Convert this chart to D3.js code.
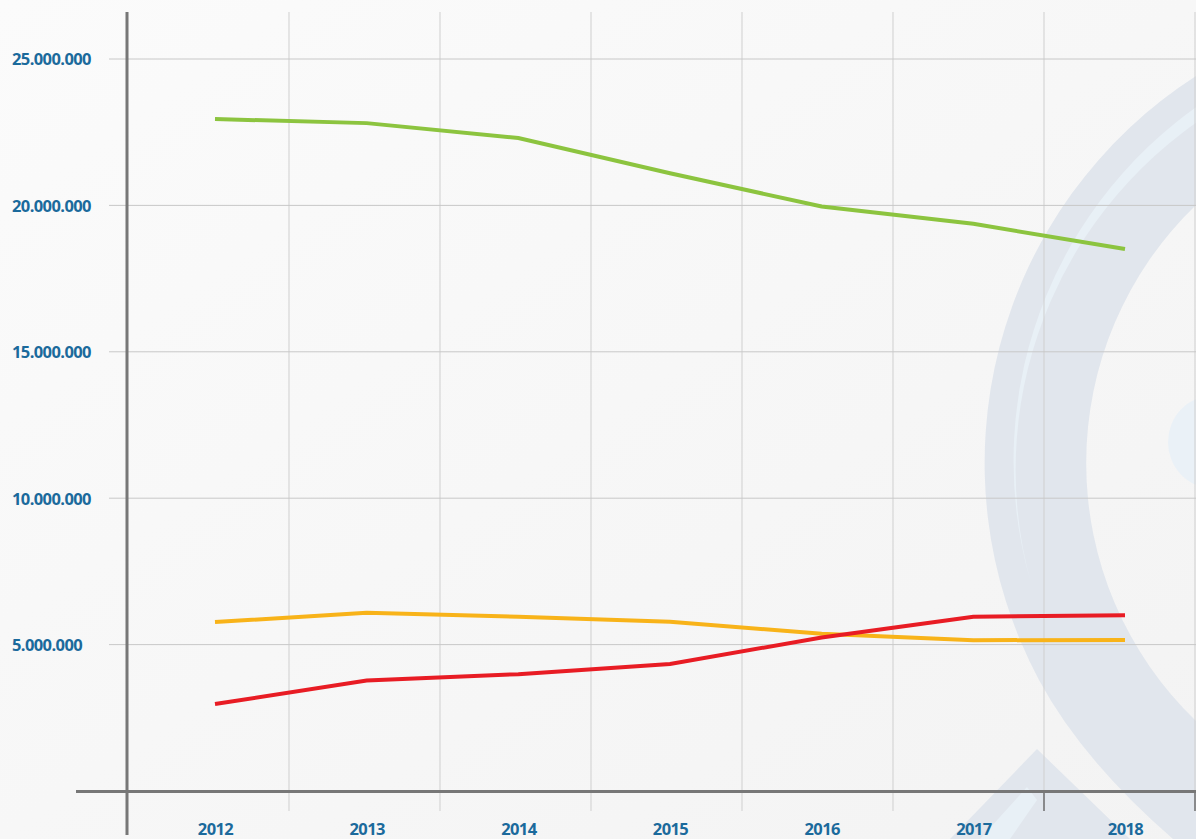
<!DOCTYPE html>
<html>
<head>
<meta charset="utf-8">
<script src="https://cdn.jsdelivr.net/npm/d3@7"></script>
<style>
  body { margin: 0; background: #f7f7f7; }
  svg { display: block; }
  .lbl text { font-family: "Open Sans", sans-serif; font-weight: 700; font-size: 16.5px; fill: #1b6a9c; letter-spacing: -0.6px; }
</style>
</head>
<body>
<div id="chart"></div>
<script>
// data
var years = ["2012", "2013", "2014", "2015", "2016", "2017", "2018"];
var green = [22950000, 22810000, 22300000, 21100000, 19960000, 19370000, 18510000];
var yellow = [5770000, 6090000, 5950000, 5780000, 5370000, 5150000, 5160000];
var red = [2970000, 3770000, 3990000, 4340000, 5240000, 5950000, 6000000];
var yTicks = [5000000, 10000000, 15000000, 20000000, 25000000];

var width = 1196, height = 839;

var svg = d3.select("#chart").append("svg")
    .attr("width", width)
    .attr("height", height);

// scales
var x = d3.scalePoint().domain(years).range([215, 1125]);
var band = d3.scaleBand().domain(years).range([138, 1195]);
var y = d3.scaleLinear().domain([0, 25000000]).range([791, 59]);

var fmt = d3.formatLocale({decimal: ",", thousands: ".", grouping: [3], currency: ["", ""]}).format(",d");

// background
var defs = svg.append("defs");
var grad = defs.append("linearGradient").attr("id", "bg")
    .attr("x1", 0).attr("y1", 0).attr("x2", 1).attr("y2", 1);
grad.append("stop").attr("offset", 0).attr("stop-color", "#fbfbfb");
grad.append("stop").attr("offset", 1).attr("stop-color", "#f3f3f3");
svg.append("rect").attr("width", width).attr("height", height).attr("fill", "url(#bg)");

// watermark logo in the corner
var wm = svg.append("g");
wm.append("path")
    .attr("d", "M1196,76 A460,460 0 0 0 1039,680 Q1082,760 1173,839 L1196,839 L1196,721 A358,358 0 0 1 1196,205 Z")
    .attr("fill", "#e1e6ed");
// thin light crescent inside the band
wm.append("path")
    .attr("d", "M1235.9,82.1 A434,434 0 0 0 1030.6,581.5 A424,424 0 0 1 1242.6,94.4 Z")
    .attr("fill", "#e8f0f6");
wm.append("path")
    .attr("d", "M1037,749 L950,839 L1130,839 Z")
    .attr("fill", "#e1e6ed");
wm.append("path")
    .attr("d", "M1027,787 L1037,800 L1010,839 L980,839 Z")
    .attr("fill", "#e8f0f6");
wm.append("ellipse")
    .attr("cx", 1212).attr("cy", 442).attr("rx", 44).attr("ry", 46)
    .attr("fill", "#eaf1f7");

// vertical grid
svg.append("g").selectAll("line")
    .data(years)
  .enter().append("line")
    .attr("x1", function(d) { return band(d) + band.bandwidth(); })
    .attr("x2", function(d) { return band(d) + band.bandwidth(); })
    .attr("y1", 12)
    .attr("y2", 811)
    .attr("stroke", "#cfcfcf")
    .attr("stroke-width", 1);

// darker ticks on the right side
svg.append("g").selectAll("line")
    .data(years.slice(5))
  .enter().append("line")
    .attr("x1", function(d) { return band(d) + band.bandwidth(); })
    .attr("x2", function(d) { return band(d) + band.bandwidth(); })
    .attr("y1", 793)
    .attr("y2", 811)
    .attr("stroke", "#555")
    .attr("stroke-width", 1.2);

// horizontal grid
svg.append("g").selectAll("line")
    .data(yTicks)
  .enter().append("line")
    .attr("x1", 109)
    .attr("x2", width)
    .attr("y1", function(d) { return y(d); })
    .attr("y2", function(d) { return y(d); })
    .attr("stroke", "#c8c8c8")
    .attr("stroke-width", 1);

// axis lines
svg.append("line")
    .attr("x1", 127).attr("x2", 127).attr("y1", 12).attr("y2", 835)
    .attr("stroke", "#777").attr("stroke-width", 3);
svg.append("line")
    .attr("x1", 76).attr("x2", width).attr("y1", y(0) + 0.5).attr("y2", y(0) + 0.5)
    .attr("stroke", "#777").attr("stroke-width", 3);

// lines
var line = d3.line()
    .x(function(d, i) { return x(years[i]); })
    .y(function(d) { return y(d); });

[[green, "#8cc43f"], [yellow, "#f8b319"], [red, "#e81c24"]].forEach(function(s) {
  svg.append("path")
      .datum(s[0])
      .attr("fill", "none")
      .attr("stroke", s[1])
      .attr("stroke-width", 4)
      .attr("d", line);
});

// y labels
var yAxis = svg.append("g")
    .attr("class", "lbl")
    .call(d3.axisLeft(y).tickValues(yTicks).tickFormat(fmt).tickSize(0));
yAxis.select(".domain").remove();
yAxis.selectAll("text")
    .attr("x", 12)
    .attr("dy", "0.36em")
    .attr("text-anchor", "start");

// x labels
var xAxis = svg.append("g")
    .attr("class", "lbl")
    .attr("transform", "translate(0,829)")
    .call(d3.axisBottom(x).tickSize(0));
xAxis.select(".domain").remove();
xAxis.selectAll("text")
    .attr("y", 0)
    .attr("dy", "0.36em");
</script>
</body>
</html>
